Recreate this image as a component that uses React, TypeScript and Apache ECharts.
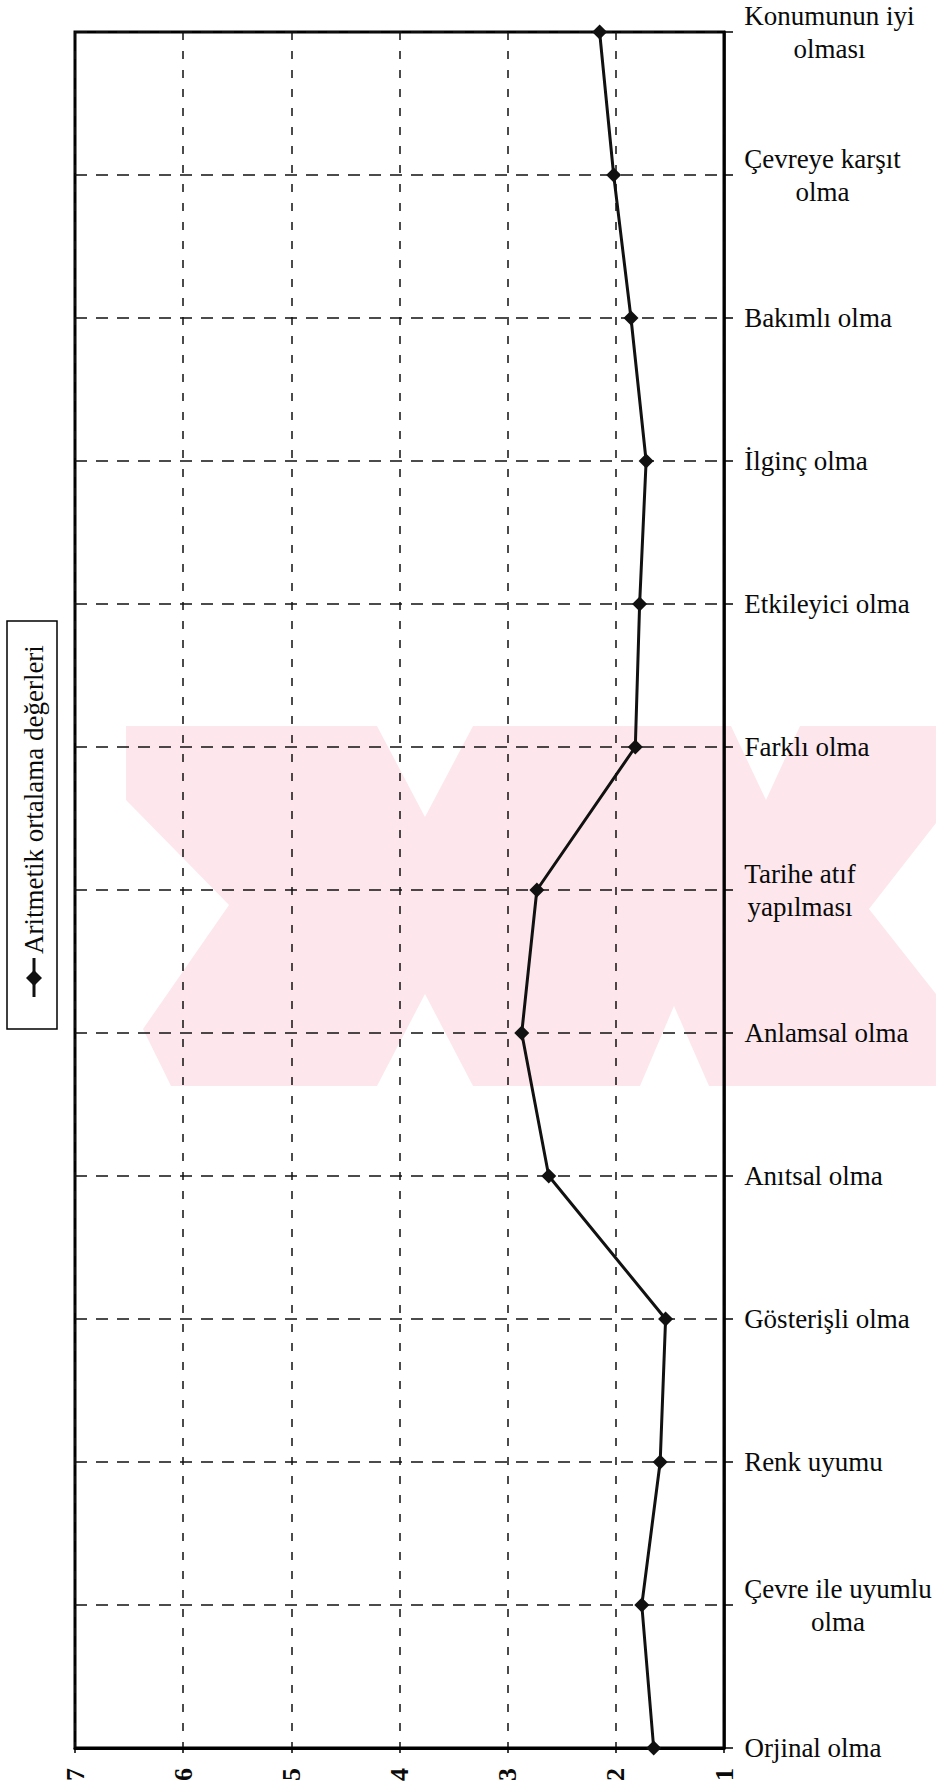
import React, { useEffect, useRef } from "react";
import * as echarts from "echarts";

const categories: string[] = [
  "Konumunun iyi\nolması",
  "Çevreye karşıt\nolma",
  "Bakımlı olma",
  "İlginç olma",
  "Etkileyici olma",
  "Farklı olma",
  "Tarihe atıf\nyapılması",
  "Anlamsal olma",
  "Anıtsal olma",
  "Gösterişli olma",
  "Renk uyumu",
  "Çevre ile uyumlu\nolma",
  "Orjinal olma",
];

const meanValues: number[] = [2.15, 2.02, 1.86, 1.72, 1.78, 1.82, 2.73, 2.87, 2.62, 1.54, 1.59, 1.76, 1.65];

const seriesName = "Aritmetik ortalama değerleri";
const axisMin = 1;
const axisMax = 7;
const axisStep = 1;

const FONT = '"Liberation Serif", "Times New Roman", serif';
const LABEL_SIZE = 27;

// faint background watermark outline (page pixels)
const watermark: number[][] = [
  [126, 726], [377, 726], [425, 817], [473, 726], [731, 726], [766, 800], [800, 726],
  [936, 726], [936, 823], [869, 909], [936, 994], [936, 1086], [709, 1086], [674, 1006],
  [640, 1086], [473, 1086], [425, 994], [377, 1086], [171, 1086], [143, 1029], [229, 905],
  [126, 800],
];

export default function App() {
  const ref = useRef<HTMLDivElement>(null);
  useEffect(() => {
    if (!ref.current) return;
    const chart = echarts.init(ref.current, undefined, { renderer: "svg" });

    const canvas = document.createElement("canvas");
    const ctx = canvas.getContext("2d")!;
    ctx.font = `${LABEL_SIZE}px ${FONT}`;
    const rich: Record<string, any> = {};
    categories.forEach((c, i) => {
      const w = Math.max(...c.split("\n").map((l) => ctx.measureText(l).width));
      rich["c" + i] = {
        width: Math.ceil(w) + 2,
        align: "center",
        fontSize: LABEL_SIZE,
        fontFamily: FONT,
        color: "#0a0a0a",
        lineHeight: 33,
      };
    });

    chart.setOption({
      animation: false,
      backgroundColor: "#fff",
      grid: {
        left: 75,
        right: 210,
        top: 32,
        bottom: 44,
        show: true,
        borderColor: "#000",
        borderWidth: 3,
        backgroundColor: "transparent",
      },
      xAxis: {
        type: "value",
        inverse: true,
        min: axisMin,
        max: axisMax,
        interval: axisStep,
        position: "bottom",
        axisLine: { show: true, lineStyle: { color: "#000", width: 3 } },
        axisTick: { show: true, length: 5, lineStyle: { color: "#000", width: 1.5 } },
        axisLabel: {
          rotate: 90,
          margin: 20,
          fontSize: 26,
          fontWeight: "bold",
          fontFamily: FONT,
          color: "#0a0a0a",
        },
        splitLine: {
          show: true,
          lineStyle: { color: "#111", width: 1.5, type: [8, 11] },
        },
      },
      yAxis: {
        type: "category",
        data: categories,
        inverse: true,
        boundaryGap: false,
        position: "right",
        axisLine: { show: true, lineStyle: { color: "#000", width: 2.5 } },
        axisTick: { show: true, length: 9, interval: 0, lineStyle: { color: "#000", width: 1.5 } },
        axisLabel: {
          interval: 0,
          margin: 19,
          align: "left",
          fontFamily: FONT,
          fontSize: LABEL_SIZE,
          color: "#0a0a0a",
          formatter: (value: string, idx: number) =>
            value
              .split("\n")
              .map((l) => `{c${idx}|${l}}`)
              .join("\n"),
          rich,
        },
        splitLine: {
          show: true,
          lineStyle: { color: "#111", width: 1.5, type: [12, 9] },
        },
      },
      series: [
        {
          name: seriesName,
          type: "line",
          data: meanValues,
          symbol: "diamond",
          symbolSize: 15,
          z: 5,
          lineStyle: { color: "#111", width: 3 },
          itemStyle: { color: "#111" },
        },
      ],
      graphic: [
        {
          type: "polygon",
          z: -10,
          silent: true,
          shape: { points: watermark },
          style: { fill: "#fde7ec", stroke: "none" },
        },
        {
          type: "rect",
          z: 10,
          shape: { x: 7, y: 621, width: 50, height: 408 },
          style: { fill: "#fff", stroke: "#000", lineWidth: 1.5 },
        },
        {
          type: "group",
          x: 34,
          y: 1000,
          rotation: Math.PI / 2,
          z: 11,
          children: [
            {
              type: "line",
              z: 11,
              shape: { x1: 3, y1: 0, x2: 42, y2: 0 },
              style: { stroke: "#111", lineWidth: 3 },
            },
            {
              type: "polygon",
              z: 11,
              shape: { points: [[22, -8], [30, 0], [22, 8], [14, 0]] },
              style: { fill: "#111" },
            },
            {
              type: "text",
              z: 11,
              x: 46,
              y: 0,
              style: {
                text: seriesName,
                fontFamily: FONT,
                fontSize: LABEL_SIZE,
                fill: "#0a0a0a",
                align: "left",
                verticalAlign: "middle",
              },
            },
          ],
        },
      ],
    });
    return () => chart.dispose();
  }, []);
  return (
    <div
      ref={ref}
      style={{ position: "absolute", left: 0, top: 0, width: 936, height: 1792 }}
    />
  );
}
